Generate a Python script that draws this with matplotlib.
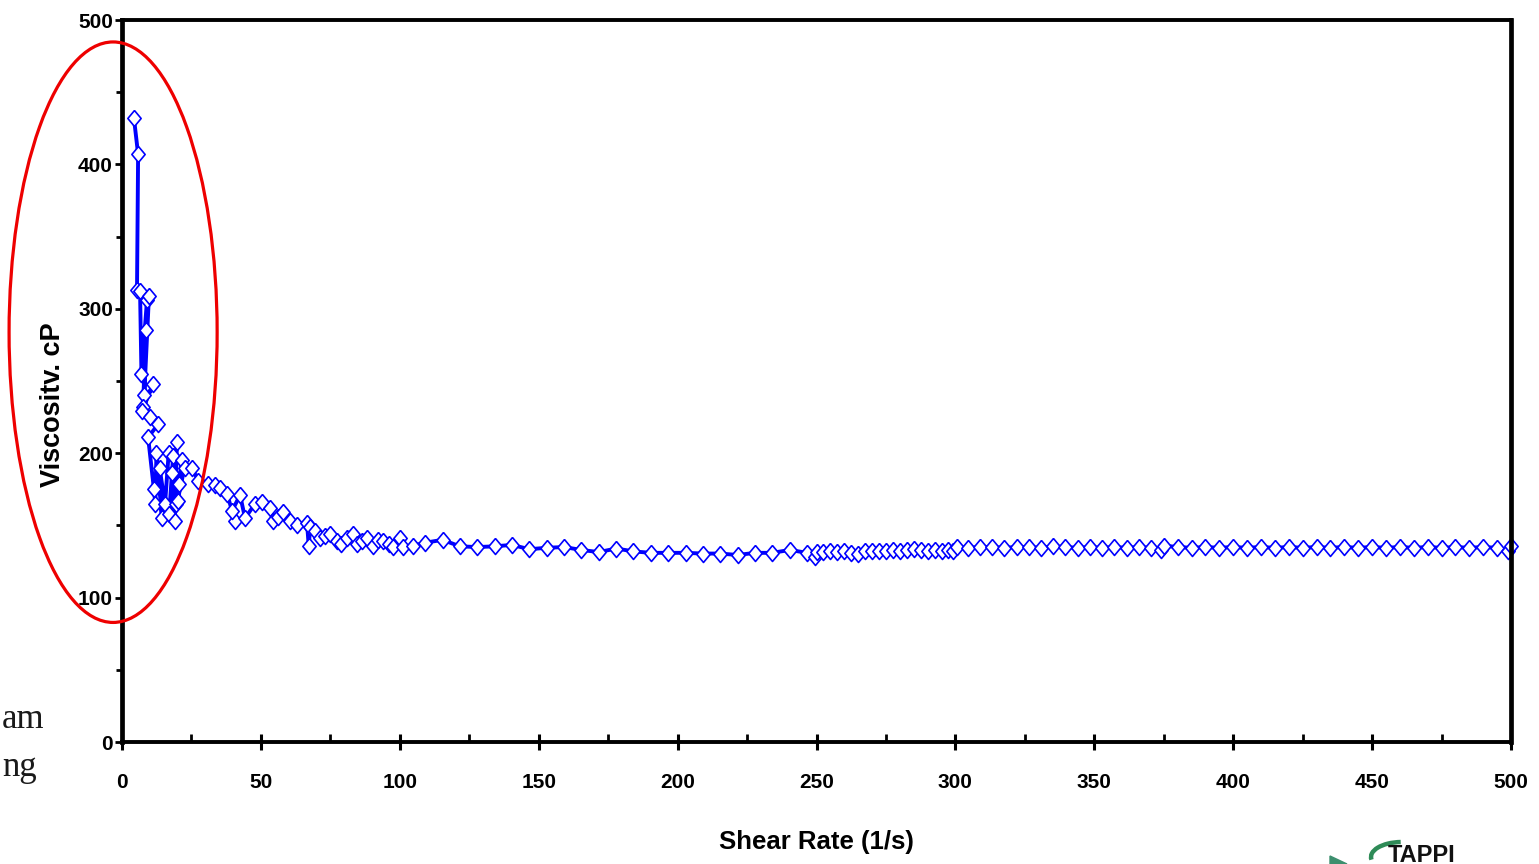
import matplotlib
matplotlib.use("Agg")
import matplotlib.pyplot as plt
from matplotlib import font_manager
from matplotlib.patches import Ellipse, Arc, Polygon
from matplotlib.ticker import MultipleLocator

# ---------------- data ----------------
# start-up region, noisy (order of measurement)
low_rate = [4.3, 5.8, 5.4, 6.5, 7.0, 9.0, 9.7, 8.0, 8.5, 7.6, 11.2,
            7.2, 10.0, 13.0, 9.4, 11.5, 12.0, 12.4, 14.4, 13.5, 15.5, 16.8, 18.4,
            17.0, 19.8, 19.0, 18.0, 20.5, 19.5, 21.6, 20.0, 22.5, 25.2, 27.4, 31.0]
low_visc = [432, 407, 313, 312, 255, 306, 309, 240, 285, 232, 248,
            229, 225, 220, 211, 175, 165, 200, 155, 190, 165, 200, 198,
            158, 208, 153, 186, 179, 165, 195, 167, 190, 190, 181, 179]

mid_rate = [33.5, 35.3, 37.8, 40.7, 39.6, 42.5, 44.3, 47.9, 50.4, 53.3, 54.4, 56.0,
            58.0, 60.5, 63.0, 66.6, 67.2, 67.8, 69.5, 71.3, 73.0, 75.0, 77.4, 79.0,
            81.0, 83.2, 84.6, 86.5, 88.2, 90.4, 92.0, 94.0, 96.0, 97.6, 100.0, 101.0,
            104.8]
mid_visc = [178, 176, 172, 153, 160, 171, 155, 165, 166, 162, 153, 156,
            159, 153, 150, 152, 136, 149, 146, 141, 143, 144, 139.5, 137,
            141.5, 144, 137, 139, 141, 136, 140, 139.5, 137, 135, 141, 135,
            136]

ramp1_rate = [109.1, 115.4, 121.6, 127.9, 134.1, 140.4, 146.6, 152.9, 159.1, 165.4,
              171.6, 177.9, 184.1, 190.4, 196.6, 202.9, 209.1, 215.4, 221.6, 227.9,
              234.1, 240.4, 246.6]
ramp1_visc = [138, 140, 135.5, 135, 135.5, 136.5, 133.5, 134.5, 135, 133,
              131.5, 134, 132, 131, 131, 131, 130.5, 130.5, 129.5, 131,
              131, 133, 131]

ramp2_rate = [249.5, 250.0, 252.5, 255.0, 257.5, 260.0, 262.5, 265.0, 267.5, 270.0,
              272.5, 275.0, 277.5, 280.0, 282.5, 285.0, 287.5, 290.0, 292.5, 295.0,
              297.5, 299.0, 300.5]
ramp2_visc = [128, 131.5, 131.5, 132, 131.5, 132, 131, 130.5, 132, 132.5,
              132, 132.5, 133, 132.5, 133, 133.5, 133, 132.5, 133, 132.5,
              133, 132, 135]

ramp3_rate = [304.4, 308.8, 313.2, 317.6, 322.0, 326.4, 330.8, 335.2, 339.6, 344.0,
              348.4, 352.8, 357.2, 361.6, 366.0, 370.4, 374.0, 375.2]
ramp3_visc = [134.5, 135, 135, 134.5, 135, 135, 134.5, 135.5, 135, 134.5,
              135, 134.5, 135, 134.5, 135, 134.5, 133, 136]

ramp4_rate = [380, 385, 390, 395, 400, 405, 410, 415, 420, 425, 430, 435, 440,
              445, 450, 455, 460, 465, 470, 475, 480, 485, 490, 495, 499, 500]
ramp4_visc = [135, 134.5, 135, 134.5, 135, 134.5, 135, 134.5, 135, 134.5, 135,
              134.5, 135, 134.5, 135, 134.5, 135, 134.5, 135, 134.5, 135, 134.5,
              135, 134.5, 132, 135.5]

shear_rate = low_rate + mid_rate + ramp1_rate + ramp2_rate + ramp3_rate + ramp4_rate
viscosity = low_visc + mid_visc + ramp1_visc + ramp2_visc + ramp3_visc + ramp4_visc

x_ticks = [0, 50, 100, 150, 200, 250, 300, 350, 400, 450, 500]
y_ticks = [0, 100, 200, 300, 400, 500]
x_label = "Shear Rate (1/s)"
y_label = "Viscositv. cP"

# ---------------- figure ----------------
names = {f.name for f in font_manager.fontManager.ttflist}
if "Liberation Sans Narrow" in names:
    xl_family, xl_size = "Liberation Sans Narrow", 22.5
else:
    xl_family, xl_size = "Liberation Sans", 18.5

W, H = 1539, 864
fig = plt.figure(figsize=(W / 100, H / 100), dpi=100, facecolor="white")
ax = fig.add_axes([122 / W, 1 - 742 / H, (1511 - 122) / W, (742 - 20) / H])

# diamond marker, a little taller than wide
diamond = [(0, 1.2), (1, 0), (0, -1.2), (-1, 0), (0, 1.2)]
ax.plot(shear_rate, viscosity, color="#0000ff", lw=2.8, zorder=3,
        solid_joinstyle="miter",
        marker=diamond, markersize=11.5, markerfacecolor="white",
        markeredgecolor="#0000ff", markeredgewidth=1.2, clip_on=False)

ax.set_xlim(0, 500)
ax.set_ylim(0, 500)
ax.set_xticks(x_ticks)
ax.set_yticks(y_ticks)
ax.xaxis.set_minor_locator(MultipleLocator(25))
ax.yaxis.set_minor_locator(MultipleLocator(50))

for side in ["left", "right"]:
    ax.spines[side].set_linewidth(3.4)
for side in ["top", "bottom"]:
    ax.spines[side].set_linewidth(2.8)
for s in ax.spines.values():
    s.set_color("black")
    s.set_zorder(4)

ax.tick_params(axis="x", which="major", direction="inout", length=12, width=2.2,
               pad=16)
ax.tick_params(axis="x", which="minor", direction="in", length=6, width=2.0)
ax.tick_params(axis="y", which="major", direction="out", length=5, width=2.0,
               pad=1.5)
ax.tick_params(axis="y", which="minor", direction="out", length=4, width=2.0)

for lab in ax.get_xticklabels() + ax.get_yticklabels():
    lab.set_family("Liberation Sans")
    lab.set_fontsize(15)
    lab.set_fontweight("bold")

fig.text(816 / W, 1 - 842 / H, x_label, ha="center", va="center",
         family=xl_family, fontsize=xl_size, fontweight="bold")
fig.text(53 / W, 1 - 405 / H, y_label, ha="center", va="center", rotation=90,
         family="Liberation Sans", fontsize=19.5, fontweight="bold")

# red highlight ellipse
ell = Ellipse((-3.2, 283.8), 74.9, 402, fill=False, edgecolor="#ee0000",
              lw=2.3, zorder=6, clip_on=False)
ax.add_patch(ell)

# fragments of slide text at left edge
fig.text(2 / W, 1 - 728 / H, "am", ha="left", va="baseline",
         family="Liberation Serif", fontsize=25, color="#1a1a1a")
fig.text(2 / W, 1 - 776 / H, "ng", ha="left", va="baseline",
         family="Liberation Serif", fontsize=25, color="#1a1a1a")

# TAPPI logo fragment, bottom right
fig.text(1388 / W, 2 / H, "TAPPI", ha="left", va="baseline",
         family="Liberation Sans", fontsize=17, fontweight="bold", color="#111111")
arc = Arc((14.02, 0.07), 0.62, 0.30, theta1=95, theta2=185, color="#2e8b57",
          lw=3.2, transform=fig.dpi_scale_trans)
fig.add_artist(arc)
tri = Polygon([(13.30, 0.08), (13.47, 0.0), (13.30, 0.0)], closed=True,
              color="#3d8f6e", transform=fig.dpi_scale_trans)
fig.add_artist(tri)

fig.savefig("out.png", dpi=100, facecolor="white")
